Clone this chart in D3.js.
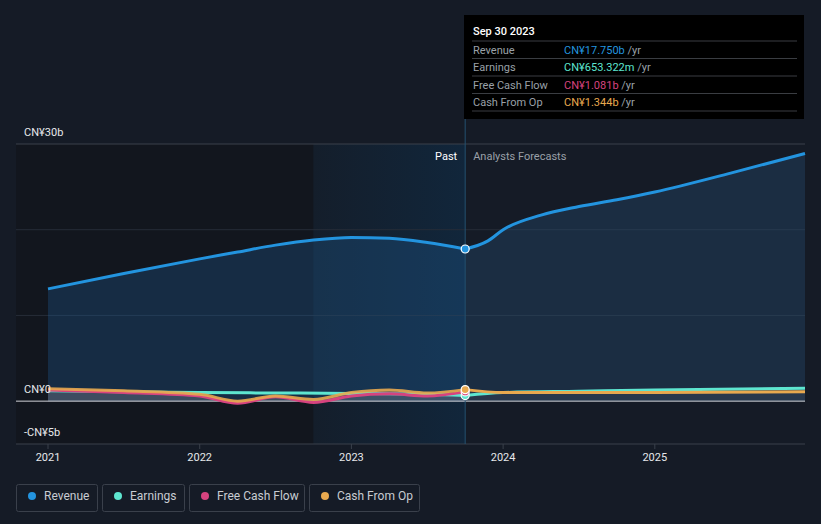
<!DOCTYPE html>
<html><head><meta charset="utf-8">
<script src="https://cdn.jsdelivr.net/npm/d3@7/dist/d3.min.js"></script>
<style>
body{margin:0;background:#151b26;font-family:Roboto,"Noto Sans",sans-serif;}
</style></head><body>
<svg id="c" width="821" height="524"></svg>
<script>
const revenuePast = [[2021.0,13.1],[2021.5,14.9],[2022.0,16.6],[2022.25,17.4],[2022.5,18.2],[2022.75,18.8],[2023.0,19.1],[2023.25,19.0],[2023.5,18.5],[2023.75,17.75]];
const revenueFc = [[2023.75,17.75],[2023.9,18.7],[2024.0,20.0],[2024.25,21.7],[2024.5,22.7],[2024.75,23.5],[2025.0,24.4],[2025.5,26.6],[2025.99,28.9]];
const earningsPast = [[2021.0,1.2],[2021.5,1.1],[2022.0,1.0],[2022.5,0.95],[2023.0,0.9],[2023.5,0.8],[2023.75,0.653]];
const earningsFc = [[2023.75,0.653],[2024.0,1.0],[2024.5,1.15],[2025.0,1.3],[2025.99,1.5]];
const fcfPast = [[2021.0,1.3],[2021.5,1.0],[2022.0,0.6],[2022.25,-0.25],[2022.5,0.5],[2022.75,-0.15],[2023.0,0.6],[2023.25,0.85],[2023.5,0.6],[2023.75,1.081]];
const cfoPast = [[2021.0,1.45],[2021.5,1.2],[2022.0,0.8],[2022.25,0.0],[2022.5,0.6],[2022.75,0.2],[2023.0,1.0],[2023.25,1.3],[2023.5,0.95],[2023.75,1.344]];
const cfoFc = [[2023.75,1.344],[2024.0,1.0],[2025.0,1.0],[2025.99,1.1]];
const yTicks = [30,20,10,0,-5];
const xTicks = [2021,2022,2023,2024,2025];
const tipRows = [["Revenue","CN¥17.750b","#2394df"],["Earnings","CN¥653.322m","#5ee6d0"],["Free Cash Flow","CN¥1.081b","#d6437f"],["Cash From Op","CN¥1.344b","#e8a94f"]];
const legendItems = [["Revenue","#2394df"],["Earnings","#5ee6d0"],["Free Cash Flow","#d6437f"],["Cash From Op","#e8a94f"]];

const svg = d3.select("#c");
const x = d3.scaleLinear().domain([2021,2025.99]).range([48,805]);
const y = d3.scaleLinear().domain([-5,30]).range([444,144]);
const pastX = x(2023.75), hlX = x(2022.75);

const defs = svg.append("defs");
const g1 = defs.append("linearGradient").attr("id","hl").attr("x1",0).attr("x2",1);
g1.append("stop").attr("offset",0).attr("stop-color","#141e2b");
g1.append("stop").attr("offset",1).attr("stop-color","#11263b");

svg.append("rect").attr("x",16).attr("y",144).attr("width",hlX-16).attr("height",300).attr("fill","#12161e");
svg.append("rect").attr("x",hlX).attr("y",144).attr("width",pastX-hlX).attr("height",300).attr("fill","url(#hl)");

// grid
[30,20,10].forEach(v=>{
  svg.append("line").attr("x1",16).attr("x2",805).attr("y1",y(v)).attr("y2",y(v))
   .attr("stroke", v===30?"#3a404b":"#262d38").attr("stroke-width",1);
});

const curve = d3.curveMonotoneX;
const area = d3.area().x(d=>x(d[0])).y0(y(0)).y1(d=>y(d[1])).curve(curve);
const line = d3.line().x(d=>x(d[0])).y(d=>y(d[1])).curve(curve);

svg.append("path").attr("d",area(revenuePast)).attr("fill","#1f5c94").attr("opacity",0.32);
svg.append("path").attr("d",area(revenueFc)).attr("fill","#2a5c8c").attr("opacity",0.28);
svg.append("path").attr("d",area(cfoPast)).attr("fill","#8a8a95").attr("opacity",0.35);
svg.append("path").attr("d",area(cfoFc)).attr("fill","#8a8a95").attr("opacity",0.12);

svg.append("line").attr("x1",16).attr("x2",805).attr("y1",y(0)).attr("y2",y(0)).attr("stroke","#d0d3d8").attr("stroke-width",1);
svg.append("line").attr("x1",16).attr("x2",805).attr("y1",444).attr("y2",444).attr("stroke","#3a404b");
svg.append("line").attr("x1",pastX).attr("x2",pastX).attr("y1",15).attr("y2",444).attr("stroke","#24506f").attr("stroke-width",1);

const lw = 3;
svg.append("path").attr("d",line(earningsPast)).attr("fill","none").attr("stroke","#5ee6d0").attr("stroke-width",lw);
svg.append("path").attr("d",line(earningsFc)).attr("fill","none").attr("stroke","#5ee6d0").attr("stroke-width",lw);
svg.append("path").attr("d",line(fcfPast)).attr("fill","none").attr("stroke","#d6437f").attr("stroke-width",lw);
svg.append("path").attr("d",line(cfoPast)).attr("fill","none").attr("stroke","#e8a94f").attr("stroke-width",lw).attr("opacity",0.9);
svg.append("path").attr("d",line(cfoFc)).attr("fill","none").attr("stroke","#e8a94f").attr("stroke-width",lw);
svg.append("path").attr("d",line(revenuePast)).attr("fill","none").attr("stroke","#2394df").attr("stroke-width",lw);
svg.append("path").attr("d",line(revenueFc)).attr("fill","none").attr("stroke","#2394df").attr("stroke-width",lw);

// markers
[[earningsPast,"#5ee6d0"],[fcfPast,"#d6437f"],[cfoPast,"#e8a94f"],[revenuePast,"#2394df"]].forEach(([s,c])=>{
  const d = s[s.length-1];
  svg.append("circle").attr("cx",x(d[0])).attr("cy",y(d[1])).attr("r",4).attr("fill",c).attr("stroke","#fff").attr("stroke-width",1.2);
});

// y labels
const yl = {30:"CN¥30b",0:"CN¥0","-5":"-CN¥5b"};
[30,0,-5].forEach(v=>{
  svg.append("text").attr("x",24).attr("y",y(v)-8).text(yl[v]).attr("fill","#e6e8eb").attr("font-size",11);
});

// x axis
xTicks.forEach(t=>{
  svg.append("line").attr("x1",x(t)).attr("x2",x(t)).attr("y1",444).attr("y2",449).attr("stroke","#3a404b");
  svg.append("text").attr("x",x(t)).attr("y",461).attr("text-anchor","middle").text(t).attr("fill","#e6e8eb").attr("font-size",11);
});

svg.append("text").attr("x",pastX-8).attr("y",160).attr("text-anchor","end").text("Past").attr("fill","#ffffff").attr("font-size",11);
svg.append("text").attr("x",pastX+8).attr("y",160).text("Analysts Forecasts").attr("fill","#9aa0a8").attr("font-size",11);

// tooltip
const tip = svg.append("g").attr("transform","translate(464,15)");
tip.append("rect").attr("width",340).attr("height",104).attr("fill","#000");
tip.append("text").attr("x",9).attr("y",20).text("Sep 30 2023").attr("fill","#fff").attr("font-size",11).attr("font-weight",500);
tipRows.forEach((r,i)=>{
  const yy = 26 + i*17.5;
  tip.append("line").attr("x1",8).attr("x2",333).attr("y1",yy).attr("y2",yy).attr("stroke","#3a3d42");
  tip.append("text").attr("x",9).attr("y",yy+12.5).text(r[0]).attr("fill","#9aa0a8").attr("font-size",11);
  const t = tip.append("text").attr("x",100).attr("y",yy+12.5).attr("font-size",11);
  t.append("tspan").text(r[1]).attr("fill",r[2]);
  t.append("tspan").text(" /yr").attr("fill","#9aa0a8");
});
tip.append("line").attr("x1",8).attr("x2",333).attr("y1",96).attr("y2",96).attr("stroke","#3a3d42");

// legend
let lx = 16;
const widths = [81,82,115,110];
legendItems.forEach((it,i)=>{
  const gI = svg.append("g").attr("transform",`translate(${lx},484)`);
  gI.append("rect").attr("x",0.5).attr("y",0.5).attr("width",widths[i]).attr("height",27).attr("rx",2).attr("fill","none").attr("stroke","#3a404b");
  gI.append("circle").attr("cx",16).attr("cy",12).attr("r",4).attr("fill",it[1]);
  gI.append("text").attr("x",28).attr("y",16).text(it[0]).attr("fill","#c8ccd2").attr("font-size",12);
  lx += widths[i] + 5;
});
</script>
</body></html>
